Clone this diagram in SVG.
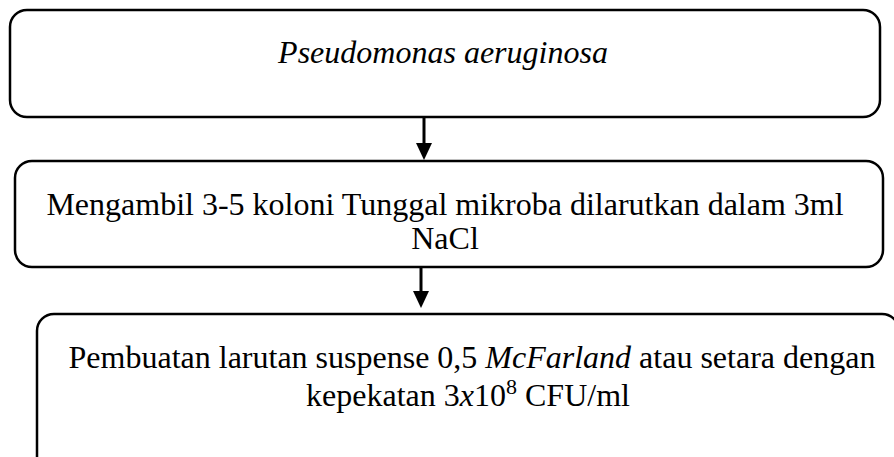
<svg xmlns="http://www.w3.org/2000/svg" width="894" height="457" viewBox="0 0 894 457">
<style>
.box{fill:#fff;stroke:#000;stroke-width:2.5}
.t{font-family:"Liberation Serif","Times New Roman",serif;font-size:32px;fill:#000;text-anchor:middle}
.conn line{stroke:#000;stroke-width:3}
.conn polygon{fill:#000}
</style>
<g id="node1">
<rect class="box" x="10" y="10" width="870" height="107" rx="17"/>
<text class="t" x="443" y="63" font-style="italic">Pseudomonas aeruginosa</text>
</g>
<g id="node2">
<rect class="box" x="15" y="161" width="868" height="106" rx="17"/>
<text class="t" x="445" y="215">Mengambil 3-5 koloni Tunggal mikroba dilarutkan dalam 3ml</text>
<text class="t" x="445" y="249">NaCl</text>
</g>
<g id="node3">
<rect class="box" x="37" y="314" width="862" height="170" rx="17"/>
<text class="t" x="472" y="368">Pembuatan larutan suspense 0,5 <tspan font-style="italic">McFarland</tspan> atau setara dengan</text>
<text class="t" x="468" y="406">kepekatan 3<tspan font-style="italic">x</tspan>10<tspan font-size="22" dy="-12">8</tspan><tspan dy="12"> CFU/ml</tspan></text>
</g>
<g id="connectors" class="conn">
<line x1="424" y1="117" x2="424" y2="145"/>
<polygon points="416,143 432,143 424,160"/>
<line x1="421" y1="267" x2="421" y2="293"/>
<polygon points="413,291 429,291 421,308"/>
</g>
</svg>
